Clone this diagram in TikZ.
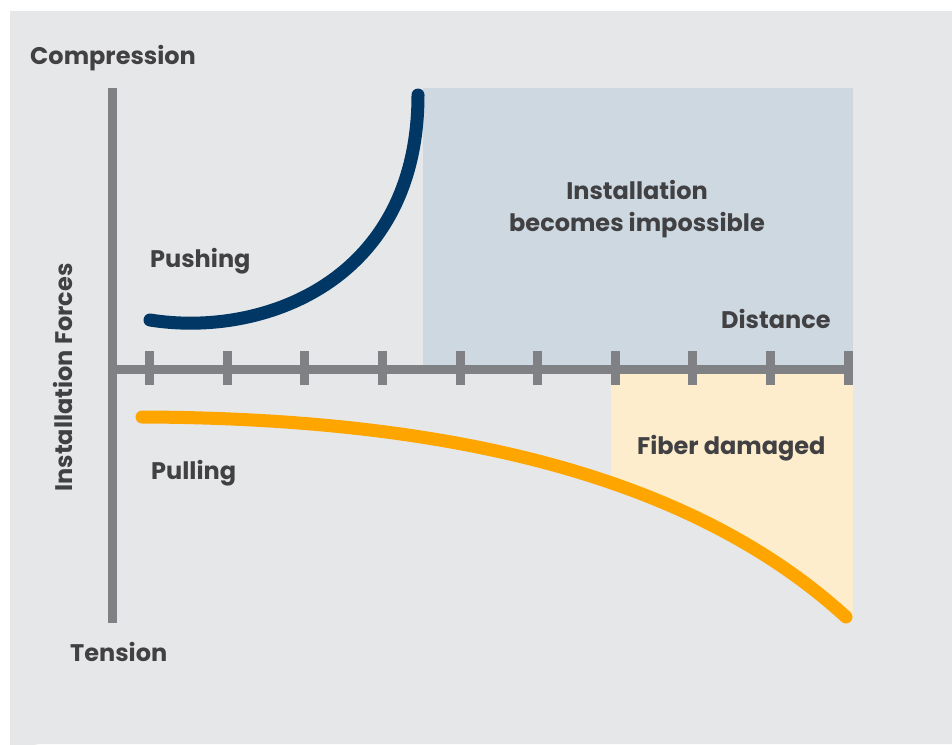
\documentclass[tikz,border=0pt]{standalone}
\usepackage{fontspec}
\setmainfont{Poppins}
\definecolor{bgc}{HTML}{E6E7E9}
\definecolor{blueregion}{HTML}{CDD8E1}
\definecolor{orangeregion}{HTML}{FEEDCD}
\definecolor{axisc}{HTML}{808184}
\definecolor{navy}{HTML}{003764}
\definecolor{orangec}{HTML}{FFA500}
\definecolor{txtc}{HTML}{414042}
\begin{document}
\begin{tikzpicture}[x=1pt,y=-1pt,
  lbl/.style={font=\fontsize{24}{28}\selectfont\bfseries, text=txtc, inner sep=0pt, anchor=base west},
  axisline/.style={draw=axisc, line width=9pt},
  tickmark/.style={draw=axisc, line width=9pt},
  curvestyle/.style={line width=13pt, line cap=round}]
\useasboundingbox (0,0) rectangle (952,744);
\fill[white] (0,0) rectangle (952,744);
% background panel
\fill[bgc] (10,11) -- (952,11) -- (952,744) -- (42,744) arc[start angle=270, end angle=180, radius=32] -- cycle;
% regions
\fill[blueregion] (423,88) rectangle (853,370);
\begin{scope}
  \clip (611,370) rectangle (853,640);
  \fill[orangeregion] (142,370) -- (142,417) .. controls (420,418) and (680,465) .. (846,617) -- (853,617) -- (853,370) -- cycle;
\end{scope}
% axes
\draw[axisline] (112.5,88) -- (112.5,623);
\draw[axisline] (108,369.5) -- (853,369.5);
\foreach \x in {149.5,227,304.5,382.5,460,537.5,615,692.5,770,848}
  \draw[tickmark] (\x,351) -- (\x,385);
% curves
\draw[curvestyle, navy] (150,320) .. controls (262,338) and (418,282) .. (418,95);
\draw[curvestyle, orangec] (142,417) .. controls (420,418) and (680,465) .. (846,617);
% labels
\node[lbl] (comp) at (30,64) {Compression};
\node[lbl] (tens) at (70,661) {Tension};
\node[lbl] (push) at (150,267) {Pushing};
\node[lbl] (pull) at (151,479) {Pulling};
\node[lbl] (dist) at (721,328) {Distance};
\node[lbl] (fiber) at (637,454) {Fiber damaged};
\node[lbl, anchor=base] (inst1) at (637,199) {Installation};
\node[lbl, anchor=base] (inst2) at (637,231) {becomes impossible};
\node[lbl, anchor=base, rotate=90] (forces) at (72,377.5) {Installation Forces};
\end{tikzpicture}
\end{document}
